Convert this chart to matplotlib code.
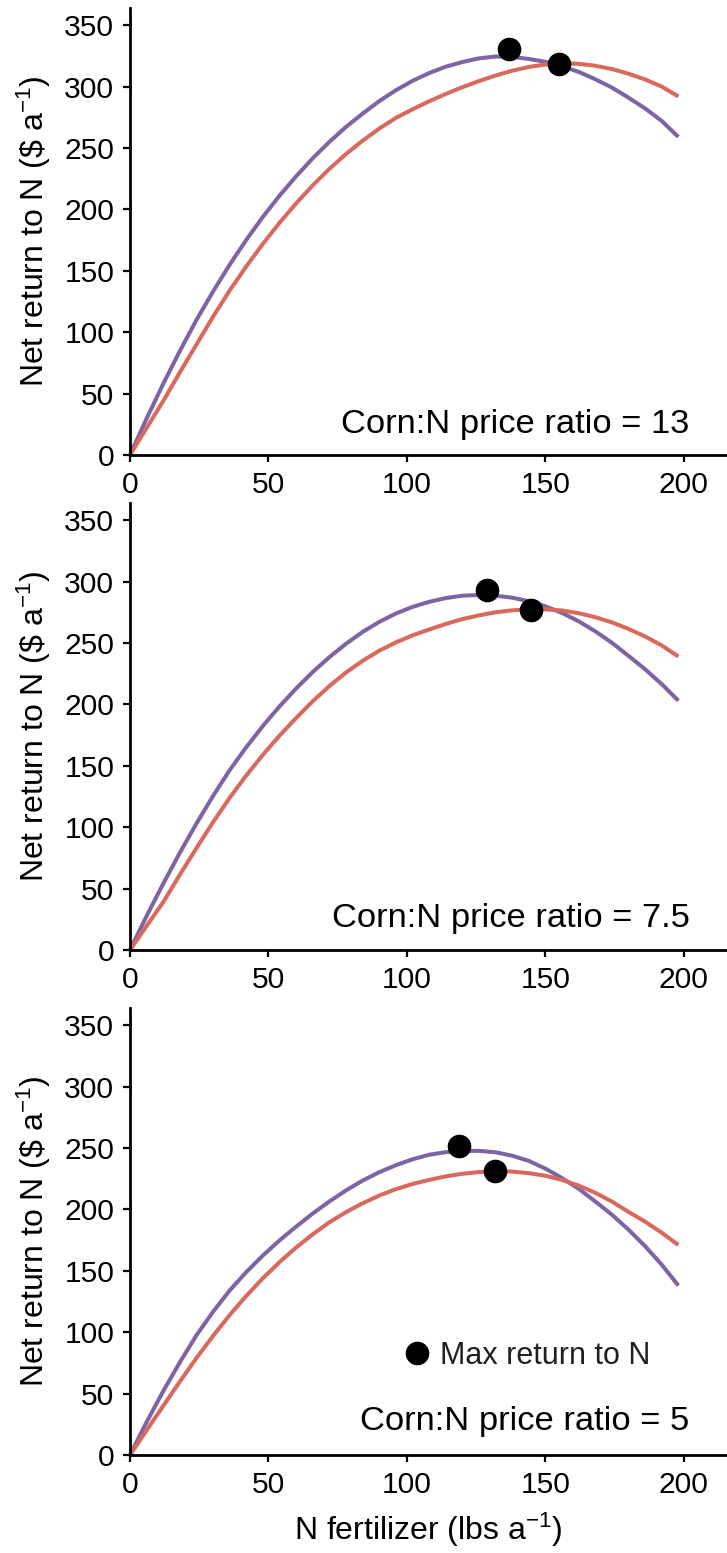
import numpy as np
import matplotlib
matplotlib.use('Agg')
import matplotlib.pyplot as plt

plt.rcParams['font.family'] = ['Liberation Sans', 'DejaVu Sans']
plt.rcParams['mathtext.fontset'] = 'custom'
plt.rcParams['mathtext.rm'] = 'Liberation Sans'
plt.rcParams['mathtext.it'] = 'Liberation Sans:italic'
plt.rcParams['axes.unicode_minus'] = True

# N rate (lbs/a) at which the curves were read
n_rate = [0, 6, 12, 18, 24, 30, 36, 42, 48, 54, 60, 66, 72, 78, 84, 90, 96,
          102, 108, 114, 120, 126, 132, 138, 144, 150, 156, 162, 168, 174,
          180, 186, 192, 198]

# price ratio 13
ret13_purple = [0, 29.7, 58, 84.7, 110, 133.2, 155, 175.2, 194, 211.2, 227, 241.7,
                255, 267.2, 278, 288.2, 297, 304.7, 311, 316.2, 320, 323, 324.5,
                324.2, 322.5, 320.2, 316.5, 312, 306, 299.2, 291, 282.2, 272, 259]
ret13_red = [0, 22, 44, 67.3, 90, 112.7, 134, 153.6, 172, 189.1, 205, 219.6,
             233, 245.1, 256, 265.8, 274.5, 281.5, 288, 294, 299.5, 304.5, 309,
             312.9, 316, 318, 319, 318.6, 317, 314.3, 310.5, 305.8, 300, 292]
max13_n = [136.7, 154.8]
max13_ret = [330.5, 318.8]

# price ratio 7.5
ret75_purple = [0, 27.7, 54, 79.2, 103, 125.5, 146.5, 165.2, 182.5, 198.4, 213, 226.4,
                238.5, 249.4, 259, 267.2, 274, 279.4, 283.5, 286.6, 288.5, 289.1, 288.5,
                286.9, 284, 279.9, 274.5, 267.7, 259.5, 250.2, 239.5, 228.6, 216.5, 203]
ret75_red = [0, 19.6, 39, 61.3, 83, 104.1, 124, 142.2, 159, 174.6, 189, 202.6,
             215, 226, 235.5, 243.7, 250.5, 256.2, 261, 265.5, 269.5, 272.5, 275,
             276.6, 277.5, 277.4, 276.5, 274.3, 271, 266.8, 261.5, 255.3, 248, 239]
max75_n = [128.8, 144.8]
max75_ret = [293.5, 277.2]

# price ratio 5
ret5_purple = [0, 26.8, 52, 75.5, 97.5, 116.7, 134, 149, 162.5, 174.8, 186, 196.7,
               206.5, 215.5, 223.5, 230.3, 236, 240.8, 244.5, 246.6, 247.5, 247.7, 246.5,
               243.7, 239.5, 233.2, 225.5, 216.8, 206.5, 195.7, 183.5, 170, 155, 138]
ret5_red = [0, 20.1, 40, 59.8, 79, 97, 114, 129.6, 144, 157.1, 169, 179.8,
            189.5, 197.8, 205, 211.3, 216.5, 220.7, 224, 226.9, 229, 230.4, 231,
            230.8, 229.5, 227.4, 224, 219.4, 213.5, 206.4, 198, 190, 181, 171]
max5_n = [118.7, 131.7]
max5_ret = [251.3, 230.9]

ratio_labels = ['Corn:N price ratio = 13', 'Corn:N price ratio = 7.5', 'Corn:N price ratio = 5']

purple = '#7d64a4'
red = '#d8695c'

fig = plt.figure(figsize=(7.27, 15.53), dpi=100)
W, H = 727, 1553
bottoms = [455, 950, 1455]
panels = [
    (ret13_purple, ret13_red, max13_n, max13_ret, 18.0),
    (ret75_purple, ret75_red, max75_n, max75_ret, 19.0),
    (ret5_purple, ret5_red, max5_n, max5_ret, 20.0),
]

axes = []
for i, (yp, yr, mx, my, ty) in enumerate(panels):
    b = bottoms[i]
    ax = fig.add_axes([130 / W, 1 - b / H, 596 / W, 447 / H])
    ax.plot(n_rate, yp, color=purple, lw=2.9, solid_capstyle='butt',
            solid_joinstyle='round', clip_on=False, zorder=2)
    ax.plot(n_rate, yr, color=red, lw=2.9, solid_capstyle='butt',
            solid_joinstyle='round', clip_on=False, zorder=2)
    dots, = ax.plot(mx, my, 'o', color='black', markersize=16, zorder=3, clip_on=False,
                    label='Max return to N')
    ax.set_xlim(0, 215.2)
    ax.set_ylim(0, 364)
    ax.set_xticks([0, 50, 100, 150, 200])
    ax.set_yticks(range(0, 351, 50))
    for s in ['top', 'right']:
        ax.spines[s].set_visible(False)
    for s in ['left', 'bottom']:
        ax.spines[s].set_linewidth(2.0)
    ax.tick_params(direction='out', length=5.3, width=1.6, labelsize=21.6, pad=6)
    ax.set_ylabel(r'Net return to N (\$ a$^{-1}$)', fontsize=23)
    ax.yaxis.set_label_coords(-0.13, 0.5)
    ax.text(202, ty, ratio_labels[i], ha='right', va='baseline', fontsize=24.8)
    axes.append(ax)

ax3 = axes[2]
ax3.set_xlabel(r'N fertilizer (lbs a$^{-1}$)', fontsize=23)
ax3.xaxis.set_label_coords(0.5, -0.125)
leg = ax3.legend(handles=[dots], loc='center left', bbox_to_anchor=(0.4616, 0.222),
                 frameon=False, fontsize=22, handlelength=0.8, handletextpad=0.34,
                 borderpad=0, borderaxespad=0, numpoints=1)
for t in leg.get_texts():
    t.set_color('#231f20')

fig.savefig('out.png', dpi=100)
